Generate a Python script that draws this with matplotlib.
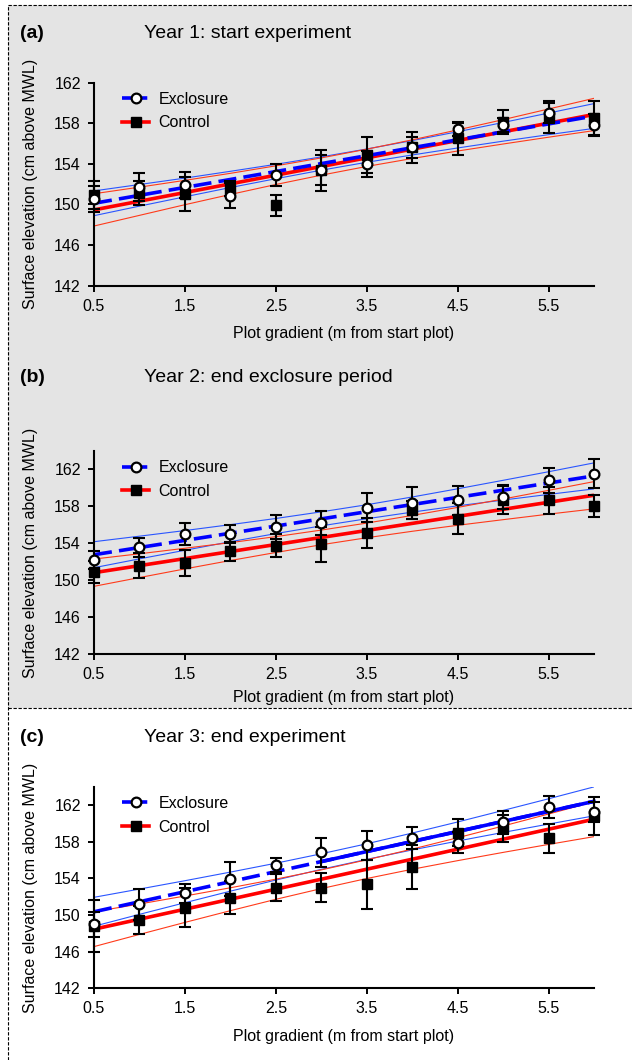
import matplotlib
matplotlib.use("Agg")
import matplotlib.pyplot as plt
from matplotlib.lines import Line2D
from matplotlib.patches import Rectangle

plt.rcParams['font.family'] = ['Liberation Sans', 'DejaVu Sans']

# Data
x = [0.5, 1.0, 1.5, 2.0, 2.5, 3.0, 3.5, 4.0, 4.5, 5.0, 5.5, 6.0]
fit_x = [0.5, 6.0]
xtick_vals = [0.5, 1.5, 2.5, 3.5, 4.5, 5.5]
xtick_labels = ['0.5', '1.5', '2.5', '3.5', '4.5', '5.5']
ytick_vals = [142, 146, 150, 154, 158, 162]
panel_tags = ['(a)', '(b)', '(c)']
panel_titles = ['Year 1: start experiment', 'Year 2: end exclosure period',
                'Year 3: end experiment']
series_names = ['Exclosure', 'Control']

# Year 1
excl_a = [150.5, 151.7, 151.9, 150.85, 152.9, 153.35, 154.0, 155.6, 157.4, 157.8, 159.0, 157.8]
excl_a_err = [1.3, 1.35, 1.25, 1.25, 1.1, 2.0, 1.3, 1.5, 0.65, 0.7, 1.0, 1.1]
ctrl_a = [150.9, 151.1, 151.0, 151.55, 149.9, 153.4, 154.85, 155.6, 156.5, 158.1, 158.6, 158.5]
ctrl_a_err = [1.4, 1.2, 1.65, 0.75, 1.05, 1.45, 1.75, 1.0, 1.6, 1.2, 1.6, 1.7]
fit_excl_a = [150.1, 158.7]
fit_ctrl_a = [149.45, 158.85]
excl_a_hi = [151.32, 151.95, 152.58, 153.25, 153.94, 154.67, 155.45, 156.28, 157.15, 158.06, 158.99, 159.92]
excl_a_lo = [148.88, 149.82, 150.74, 151.65, 152.52, 153.36, 154.14, 154.86, 155.55, 156.22, 156.86, 157.48]
ctrl_a_hi = [151.04, 151.69, 152.36, 153.05, 153.79, 154.57, 155.43, 156.35, 157.33, 158.34, 159.39, 160.44]
ctrl_a_lo = [147.86, 148.91, 149.96, 150.97, 151.95, 152.87, 153.73, 154.51, 155.25, 155.94, 156.61, 157.26]

# Year 2
excl_b = [152.2, 153.55, 155.0, 155.0, 155.8, 156.2, 157.85, 158.35, 158.65, 159.05, 160.8, 161.55]
excl_b_err = [1.0, 1.05, 1.2, 1.0, 1.3, 1.3, 1.6, 1.7, 1.55, 1.3, 1.35, 1.55]
ctrl_b = [150.85, 151.55, 151.85, 153.1, 153.7, 153.9, 155.1, 157.6, 156.65, 158.65, 158.65, 158.0]
ctrl_b_err = [1.2, 1.35, 1.4, 1.05, 1.25, 1.9, 1.6, 1.0, 1.7, 1.5, 1.45, 1.2]
fit_excl_b = [152.75, 161.3]
fit_ctrl_b = [150.8, 159.2]
excl_b_hi = [154.16, 154.76, 155.37, 156.01, 156.68, 157.40, 158.17, 159.01, 159.90, 160.82, 161.75, 162.71]
excl_b_lo = [151.34, 152.30, 153.23, 154.16, 155.04, 155.88, 156.65, 157.37, 158.05, 158.68, 159.29, 159.89]
ctrl_b_hi = [152.28, 152.85, 153.45, 154.06, 154.71, 155.42, 156.18, 157.01, 157.88, 158.79, 159.73, 160.68]
ctrl_b_lo = [149.32, 150.27, 151.21, 152.12, 152.99, 153.83, 154.59, 155.29, 155.94, 156.55, 157.15, 157.72]

# Year 3
excl_c = [149.0, 151.15, 152.35, 153.95, 155.45, 156.85, 157.6, 158.45, 157.9, 160.1, 161.8, 161.25]
excl_c_err = [1.35, 1.65, 1.0, 1.85, 0.75, 1.6, 1.55, 1.2, 1.15, 1.3, 1.2, 1.1]
ctrl_c = [148.8, 149.45, 150.8, 151.9, 153.0, 153.0, 153.35, 155.2, 159.0, 159.45, 158.35, 160.8]
ctrl_c_err = [2.85, 1.55, 2.1, 1.8, 1.45, 1.55, 2.7, 2.4, 1.5, 1.45, 1.6, 2.05]
fit_excl_c = [150.35, 162.4]
fit_ctrl_c = [148.45, 160.45]
excl_c_hi = [151.93, 152.83, 153.74, 154.68, 155.65, 156.68, 157.77, 158.94, 160.15, 161.41, 162.68, 163.98]
excl_c_lo = [148.77, 150.07, 151.34, 152.60, 153.81, 154.98, 156.07, 157.10, 158.07, 159.01, 159.92, 160.82]
ctrl_c_hi = [150.35, 151.20, 152.07, 152.97, 153.91, 154.92, 156.02, 157.19, 158.43, 159.71, 161.02, 162.35]
ctrl_c_lo = [146.55, 147.88, 149.19, 150.47, 151.71, 152.88, 153.98, 154.99, 155.93, 156.83, 157.70, 158.55]

panels = [
    dict(excl=excl_a, excl_err=excl_a_err, ctrl=ctrl_a, ctrl_err=ctrl_a_err,
         fit_excl=fit_excl_a, fit_ctrl=fit_ctrl_a,
         bands=[excl_a_hi, excl_a_lo, ctrl_a_hi, ctrl_a_lo], ytop=162),
    dict(excl=excl_b, excl_err=excl_b_err, ctrl=ctrl_b, ctrl_err=ctrl_b_err,
         fit_excl=fit_excl_b, fit_ctrl=fit_ctrl_b,
         bands=[excl_b_hi, excl_b_lo, ctrl_b_hi, ctrl_b_lo], ytop=164),
    dict(excl=excl_c, excl_err=excl_c_err, ctrl=ctrl_c, ctrl_err=ctrl_c_err,
         fit_excl=fit_excl_c, fit_ctrl=fit_ctrl_c,
         bands=[excl_c_hi, excl_c_lo, ctrl_c_hi, ctrl_c_lo], ytop=164),
]

W, H = 632, 1060
fig = plt.figure(figsize=(W / 100, H / 100), dpi=100)

# grey background + dashed frames
bg = Rectangle((8 / W, 1 - 708 / H), 1 - 8 / W, 703 / H, transform=fig.transFigure,
               facecolor='#e4e4e4', edgecolor='none', zorder=-5)
fig.add_artist(bg)
dash = dict(color='k', lw=0.8, ls=(0, (3, 1.5)), transform=fig.transFigure, zorder=-4)
fig.add_artist(Line2D([8 / W, 1], [1 - 5 / H, 1 - 5 / H], **dash))
fig.add_artist(Line2D([8 / W, 1], [1 - 708 / H, 1 - 708 / H], **dash))
fig.add_artist(Line2D([8 / W, 8 / W], [0, 1 - 5 / H], **dash))

# axes boxes in pixels: (top, bottom)
ax_px = [(82.5, 285.5), (451, 653.8), (786.7, 988.3)]
title_y = [33, 378, 738]
xlabel_pad = [9, 5.5, 9]

blue = '#0000ff'
red = '#ff0000'
band_blue = '#2a55ff'
band_red = '#ff3a1a'

for i, p in enumerate(panels):
    top, bot = ax_px[i]
    ax = fig.add_axes([94 / W, 1 - bot / H, 500 / W, (bot - top) / H])
    ax.patch.set_visible(False)

    # confidence bands
    ax.plot(x, p['bands'][0], color=band_blue, lw=0.8)
    ax.plot(x, p['bands'][1], color=band_blue, lw=0.8)
    ax.plot(x, p['bands'][2], color=band_red, lw=0.8)
    ax.plot(x, p['bands'][3], color=band_red, lw=0.8)

    # regression lines
    ax.plot(fit_x, p['fit_ctrl'], color=red, lw=2.6, solid_capstyle='butt')
    ax.plot(fit_x, p['fit_excl'], color=blue, lw=2.6, dashes=(5, 2))
    if i == 2:
        solid = ax.plot(fit_x, p['fit_excl'], color=blue, lw=2.6)[0]
        solid.set_clip_path(Rectangle((3.0, 140), 3.5, 30, transform=ax.transData))

    # error bars and markers
    ax.errorbar(x, p['ctrl'], yerr=p['ctrl_err'], fmt='none', ecolor='k',
                elinewidth=1.5, capsize=4.5, capthick=1.5, clip_on=False, zorder=3)
    ax.errorbar(x, p['excl'], yerr=p['excl_err'], fmt='none', ecolor='k',
                elinewidth=1.5, capsize=4.5, capthick=1.5, clip_on=False, zorder=3)
    ax.plot(x, p['ctrl'], ls='none', marker='s', ms=6.5, mfc='k', mec='k',
            clip_on=False, zorder=4)
    ax.plot(x, p['excl'], ls='none', marker='o', ms=7, mfc='white', mec='k',
            mew=1.6, clip_on=False, zorder=5)

    ax.set_xlim(0.5, 6.0)
    ax.set_ylim(142, p['ytop'])
    ax.set_xticks(xtick_vals)
    ax.set_xticklabels(xtick_labels)
    ax.set_yticks(ytick_vals)
    for s in ['top', 'right']:
        ax.spines[s].set_visible(False)
    for s in ['left', 'bottom']:
        ax.spines[s].set_linewidth(1.5)
    ax.tick_params(direction='out', length=4, width=1.4, labelsize=11.5, pad=5.5)

    ax.set_xlabel('Plot gradient (m from start plot)', fontsize=11.5,
                  labelpad=xlabel_pad[i])
    ax.set_ylabel('Surface elevation (cm above MWL)', fontsize=11.5)
    ax.yaxis.set_label_coords(-0.112, 0.5)

    handles = [
        Line2D([], [], color=blue, lw=2.6, dashes=(3, 1), marker='o', ms=7,
               mfc='white', mec='k', mew=1.6),
        Line2D([], [], color=red, lw=2.6, marker='s', ms=6.5, mfc='k', mec='k'),
    ]
    ax.legend(handles, series_names, loc='upper left', bbox_to_anchor=(0.056, 0.955),
              frameon=False, fontsize=11.5, handlelength=1.7, handletextpad=0.6,
              labelspacing=0.55, borderpad=0, borderaxespad=0)

    fig.text(20 / W, 1 - title_y[i] / H, panel_tags[i], fontsize=14,
             fontweight='bold', ha='left', va='center')
    fig.text(144 / W, 1 - title_y[i] / H, panel_titles[i], fontsize=14,
             ha='left', va='center')

fig.savefig('out.png', dpi=100)
